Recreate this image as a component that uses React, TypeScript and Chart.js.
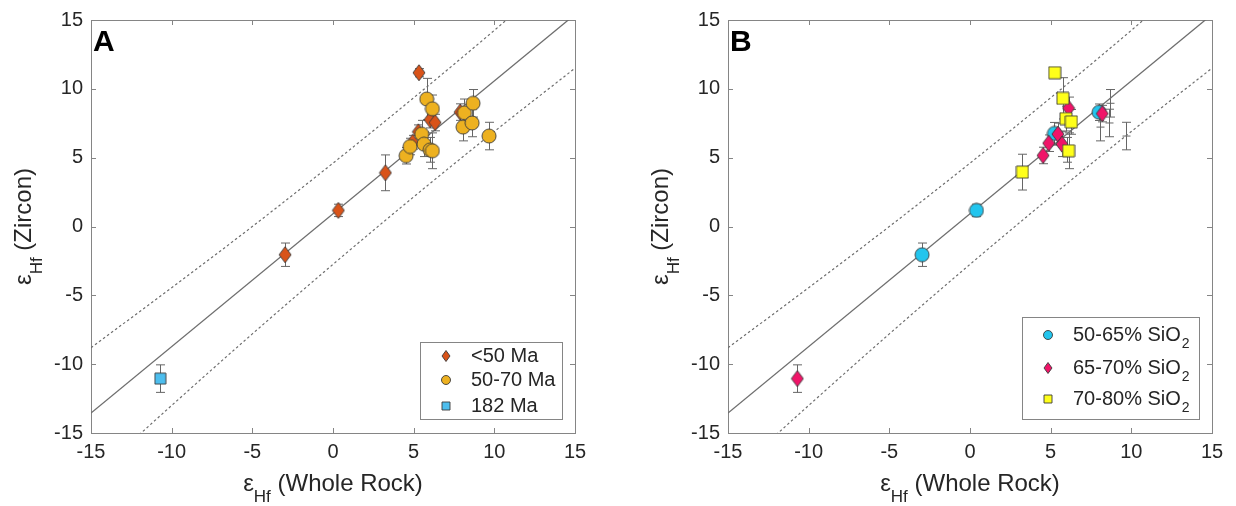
import React, { useEffect, useRef } from "react";
import { Chart, registerables } from "chart.js";
Chart.register(...registerables);

// ---------------- Data ----------------
const tickValues = [-15, -10, -5, 0, 5, 10, 15];

// regression line and prediction band
const fitX = [-15, 15];
const fitY = [-13.55, 15.4];
const bandX = [-15, -10, -5, 0, 5, 10, 15];
const bandUpper = [-8.8, -4.45, 0.0, 4.6, 9.35, 14.25, 19.3];
const bandLower = [-18.3, -13.0, -7.8, -2.75, 2.15, 6.9, 11.5];

// Panel A : ages
const aLt50X = [-2.97, 0.33, 3.25, 4.94, 5.29, 5.33, 6.02, 6.33, 7.88];
const aLt50Y = [-2.05, 1.17, 3.9, 6.12, 6.88, 11.17, 7.76, 7.55, 8.31];
const aLt50Err = [0.85, 0.45, 1.3, 0.5, 0.5, 0.3, 0.6, 0.6, 0.6];

const a5070X = [4.53, 4.78, 5.5, 5.64, 6.02, 6.16, 5.81, 6.16, 8.15, 8.68, 8.06, 8.62, 9.67];
const a5070Y = [5.14, 5.81, 6.71, 5.98, 5.57, 5.5, 9.26, 8.55, 8.26, 8.95, 7.22, 7.52, 6.57];
const a5070Err = [0.6, 0.6, 1.0, 0.9, 0.9, 1.3, 1.5, 1.0, 1.0, 1.0, 1.0, 1.0, 1.0];

const a182X = [-10.7];
const a182Y = [-11.05];
const a182Err = [1.0];

// Panel B : SiO2 content
const bLowX = [-2.97, 0.4, 5.23, 8.0];
const bLowY = [-2.05, 1.17, 6.76, 8.3];
const bLowErr = [0.85, 0.45, 0.8, 0.6];

const bMidX = [-10.7, 4.53, 4.88, 5.45, 5.7, 6.11, 8.2];
const bMidY = [-11.05, 5.16, 6.05, 6.71, 5.98, 8.6, 8.2];
const bMidErr = [1.0, 0.6, 0.6, 0.8, 0.9, 0.8, 0.6];

const bHighX = [3.25, 5.25, 5.76, 5.95, 6.28, 6.11];
const bHighY = [3.95, 11.17, 9.31, 7.84, 7.6, 5.5];
const bHighErr = [1.3, 0.3, 1.5, 0.9, 0.9, 1.3];

const bNoneX = [8.68, 8.06, 8.62, 9.67, 6.0];
const bNoneY = [8.95, 7.22, 7.52, 6.57, 5.57];
const bNoneErr = [1.0, 1.0, 1.0, 1.0, 0.9];

const legendA = ["<50 Ma", "50-70 Ma", "182 Ma"];
const legendB = ["50-65% SiO", "65-70% SiO", "70-80% SiO"];

// ---------------- Styling ----------------
const FONT = "'Liberation Sans', Arial, Helvetica, sans-serif";
const C_LT50 = "#D95319";
const C_5070 = "#EDB120";
const C_182 = "#4DBEEE";
const C_CYAN = "#22C5EE";
const C_MAG = "#F01468";
const C_YEL = "#FFFF1A";
const EDGE = "#3a3a3a";
const AXIS = "#858585";
const TXT = "#262626";
const LINE = "#6e6e6e";

type Shape = "diamond" | "circle" | "square";

function makeMarker(shape: Shape, w: number, h: number, fill: string): HTMLCanvasElement {
  const c = document.createElement("canvas");
  c.width = Math.ceil(w + 2);
  c.height = Math.ceil(h + 2);
  const g = c.getContext("2d")!;
  drawShape(g, shape, c.width / 2, c.height / 2, w, h, fill);
  return c;
}

function drawShape(g: CanvasRenderingContext2D, shape: Shape, cx: number, cy: number, w: number, h: number, fill: string) {
  g.beginPath();
  if (shape === "diamond") {
    g.moveTo(cx, cy - h / 2);
    g.lineTo(cx + w / 2, cy);
    g.lineTo(cx, cy + h / 2);
    g.lineTo(cx - w / 2, cy);
    g.closePath();
  } else if (shape === "circle") {
    g.arc(cx, cy, w / 2, 0, Math.PI * 2);
  } else {
    g.rect(cx - w / 2, cy - h / 2, w, h);
  }
  g.fillStyle = fill;
  g.fill();
  g.strokeStyle = EDGE;
  g.lineWidth = 0.9;
  g.stroke();
}

function pts(xs: number[], ys: number[]) {
  return xs.map((x, i) => ({ x, y: ys[i] }));
}

type Part = { t: string; sub?: boolean };

function drawRich(ctx: CanvasRenderingContext2D, parts: Part[], cx: number, base: number, size: number, subSize: number, subDy: number) {
  let total = 0;
  const widths = parts.map((p) => {
    ctx.font = `${p.sub ? subSize : size}px ${FONT}`;
    const w = ctx.measureText(p.t).width;
    total += w;
    return w;
  });
  let x = cx - total / 2;
  ctx.textAlign = "left";
  ctx.textBaseline = "alphabetic";
  parts.forEach((p, i) => {
    ctx.font = `${p.sub ? subSize : size}px ${FONT}`;
    ctx.fillText(p.t, x, base + (p.sub ? subDy : 0));
    x += widths[i];
  });
}

function lineDatasets() {
  return [
    {
      data: pts(fitX, fitY),
      showLine: true,
      pointRadius: 0,
      borderColor: LINE,
      borderWidth: 1.3,
      order: 20,
    },
    {
      data: pts(bandX, bandUpper),
      showLine: true,
      pointRadius: 0,
      borderColor: LINE,
      borderWidth: 1.2,
      borderDash: [2.5, 2.5],
      cubicInterpolationMode: "monotone",
      order: 21,
    },
    {
      data: pts(bandX, bandLower),
      showLine: true,
      pointRadius: 0,
      borderColor: LINE,
      borderWidth: 1.2,
      borderDash: [2.5, 2.5],
      cubicInterpolationMode: "monotone",
      order: 22,
    },
  ];
}

type LegendEntry = { shape: Shape; color: string; w: number; h: number; label: string; sub?: string };

type PanelCfg = {
  letter: string;
  datasets: any[];
  legend: LegendEntry[];
  legBox: { dl: number; dt: number; w: number; h: number; rows: number[] };
};

function buildPanels(): PanelCfg[] {
  const dA = {
    data: pts(aLt50X, aLt50Y),
    errs: aLt50Err,
    pointStyle: makeMarker("diamond", 12, 16, C_LT50),
    pointRadius: 7,
    order: 3,
  };
  const cA = {
    data: pts(a5070X, a5070Y),
    errs: a5070Err,
    pointStyle: makeMarker("circle", 14, 14, C_5070),
    pointRadius: 7,
    order: 2,
  };
  const sA = {
    data: pts(a182X, a182Y),
    errs: a182Err,
    pointStyle: makeMarker("square", 11, 11, C_182),
    pointRadius: 6,
    order: 1,
  };
  const cB = {
    data: pts(bLowX, bLowY),
    errs: bLowErr,
    pointStyle: makeMarker("circle", 14, 14, C_CYAN),
    pointRadius: 7,
    order: 3,
  };
  const dB = {
    data: pts(bMidX, bMidY),
    errs: bMidErr,
    pointStyle: makeMarker("diamond", 12, 16, C_MAG),
    pointRadius: 7,
    order: 2,
  };
  const sB = {
    data: pts(bHighX, bHighY),
    errs: bHighErr,
    pointStyle: makeMarker("square", 12, 12, C_YEL),
    pointRadius: 6,
    order: 1,
  };
  const nB = {
    data: pts(bNoneX, bNoneY),
    errs: bNoneErr,
    midTick: true,
    pointRadius: 0,
    order: 4,
  };
  return [
    {
      letter: "A",
      datasets: [...lineDatasets(), dA, cA, sA],
      legend: [
        { shape: "diamond", color: C_LT50, w: 8, h: 11, label: legendA[0] },
        { shape: "circle", color: C_5070, w: 9, h: 9, label: legendA[1] },
        { shape: "square", color: C_182, w: 8, h: 8, label: legendA[2] },
      ],
      legBox: { dl: 155, dt: 91, w: 142, h: 77, rows: [14, 38, 64] },
    },
    {
      letter: "B",
      datasets: [...lineDatasets(), nB, cB, dB, sB],
      legend: [
        { shape: "circle", color: C_CYAN, w: 9, h: 9, label: legendB[0], sub: "2" },
        { shape: "diamond", color: C_MAG, w: 8, h: 11, label: legendB[1], sub: "2" },
        { shape: "square", color: C_YEL, w: 8, h: 8, label: legendB[2], sub: "2" },
      ],
      legBox: { dl: 190, dt: 116, w: 177, h: 102, rows: [18, 51, 82] },
    },
  ];
}

function makePlugin(cfg: PanelCfg) {
  return {
    id: "decor" + cfg.letter,
    beforeDatasetsDraw(chart: any) {
      const ctx: CanvasRenderingContext2D = chart.ctx;
      const xs = chart.scales.x;
      const ys = chart.scales.y;
      const ca = chart.chartArea;
      ctx.save();
      // box
      ctx.strokeStyle = AXIS;
      ctx.lineWidth = 1;
      ctx.strokeRect(Math.round(ca.left) + 0.5, Math.round(ca.top) + 0.5, Math.round(ca.right - ca.left), Math.round(ca.bottom - ca.top));
      // inside ticks
      ctx.beginPath();
      tickValues.forEach((v) => {
        const px = Math.round(xs.getPixelForValue(v)) + 0.5;
        ctx.moveTo(px, ca.bottom);
        ctx.lineTo(px, ca.bottom - 5);
        ctx.moveTo(px, ca.top);
        ctx.lineTo(px, ca.top + 5);
        const py = Math.round(ys.getPixelForValue(v)) + 0.5;
        ctx.moveTo(ca.left, py);
        ctx.lineTo(ca.left + 5, py);
        ctx.moveTo(ca.right, py);
        ctx.lineTo(ca.right - 5, py);
      });
      ctx.stroke();
      // error bars
      ctx.beginPath();
      ctx.rect(ca.left, ca.top, ca.right - ca.left, ca.bottom - ca.top);
      ctx.clip();
      ctx.strokeStyle = "#666";
      ctx.lineWidth = 1;
      chart.data.datasets.forEach((ds: any) => {
        if (!ds.errs) return;
        ds.data.forEach((p: any, i: number) => {
          const e = ds.errs[i];
          const px = Math.round(xs.getPixelForValue(p.x)) + 0.5;
          const y1 = ys.getPixelForValue(p.y - e);
          const y2 = ys.getPixelForValue(p.y + e);
          ctx.beginPath();
          ctx.moveTo(px, y1);
          ctx.lineTo(px, y2);
          ctx.moveTo(px - 4.5, y1);
          ctx.lineTo(px + 4.5, y1);
          ctx.moveTo(px - 4.5, y2);
          ctx.lineTo(px + 4.5, y2);
          if (ds.midTick) {
            const py = ys.getPixelForValue(p.y);
            ctx.moveTo(px - 4, py);
            ctx.lineTo(px + 4, py);
          }
          ctx.stroke();
        });
      });
      ctx.restore();
    },
    afterDraw(chart: any) {
      const ctx: CanvasRenderingContext2D = chart.ctx;
      const ca = chart.chartArea;
      ctx.save();
      ctx.fillStyle = "#000";
      // panel letter
      ctx.font = `bold 30px ${FONT}`;
      ctx.textAlign = "left";
      ctx.textBaseline = "alphabetic";
      ctx.fillText(cfg.letter, ca.left + 2, ca.top + 31);
      // x title
      ctx.fillStyle = TXT;
      const cx = (ca.left + ca.right) / 2;
      drawRich(ctx, [{ t: "ε" }, { t: "Hf", sub: true }, { t: " (Whole Rock)" }], cx, 491, 24, 17, 11);
      // y title
      ctx.save();
      ctx.translate(31, (ca.top + ca.bottom) / 2);
      ctx.rotate(-Math.PI / 2);
      drawRich(ctx, [{ t: "ε" }, { t: "Hf", sub: true }, { t: " (Zircon)" }], 0, 0, 24, 17, 11);
      ctx.restore();
      // legend
      const lb = cfg.legBox;
      const lx = ca.right - lb.dl;
      const ly = ca.bottom - lb.dt;
      ctx.fillStyle = "#fff";
      ctx.fillRect(lx, ly, lb.w, lb.h);
      ctx.strokeStyle = AXIS;
      ctx.lineWidth = 1;
      ctx.strokeRect(Math.round(lx) + 0.5, Math.round(ly) + 0.5, lb.w, lb.h);
      cfg.legend.forEach((en, i) => {
        const ry = ly + lb.rows[i];
        drawShape(ctx, en.shape, lx + 26, ry, en.w, en.h, en.color);
        ctx.fillStyle = TXT;
        ctx.font = `20px ${FONT}`;
        ctx.textAlign = "left";
        ctx.textBaseline = "middle";
        ctx.fillText(en.label, lx + 51, ry);
        if (en.sub) {
          const w = ctx.measureText(en.label).width;
          ctx.font = `14px ${FONT}`;
          ctx.fillText(en.sub, lx + 51 + w + 1, ry + 9);
        }
      });
      ctx.restore();
    },
  };
}

function Panel({ cfg, left }: { cfg: PanelCfg; left: number }) {
  const ref = useRef<HTMLCanvasElement>(null);
  useEffect(() => {
    if (!ref.current) return;
    const tickFont = { family: FONT, size: 20 };
    const chart = new Chart(ref.current, {
      type: "scatter",
      data: { datasets: cfg.datasets },
      options: {
        animation: false,
        responsive: false,
        events: [],
        layout: { padding: { top: 13, right: 62, left: 0, bottom: 0 } },
        plugins: { legend: { display: false }, tooltip: { enabled: false } },
        scales: {
          x: {
            type: "linear",
            min: -15,
            max: 15,
            afterBuildTicks: (s: any) => {
              s.ticks = tickValues.map((v) => ({ value: v }));
            },
            ticks: { padding: 7, color: TXT, font: tickFont, maxRotation: 0 },
            grid: { display: false, drawTicks: false },
            border: { display: false },
            afterFit: (s: any) => {
              s.height = 73;
            },
          },
          y: {
            type: "linear",
            min: -15,
            max: 15,
            afterBuildTicks: (s: any) => {
              s.ticks = tickValues.map((v) => ({ value: v }));
            },
            ticks: { padding: 8, color: TXT, font: tickFont },
            grid: { display: false, drawTicks: false },
            border: { display: false },
            afterFit: (s: any) => {
              s.width = 91;
            },
          },
        },
      } as any,
      plugins: [makePlugin(cfg)],
    });
    return () => chart.destroy();
  }, [cfg]);
  return (
    <div style={{ position: "absolute", left, top: 0, width: 637, height: 506 }}>
      <canvas ref={ref} width={637} height={506} style={{ display: "block" }} />
    </div>
  );
}

export default function App() {
  const panelsRef = useRef<PanelCfg[] | null>(null);
  if (!panelsRef.current && typeof document !== "undefined") panelsRef.current = buildPanels();
  const panels = panelsRef.current!;
  return (
    <div style={{ position: "absolute", left: 0, top: 0, width: 1236, height: 506, background: "#fff", overflow: "hidden" }}>
      <Panel cfg={panels[0]} left={0} />
      <Panel cfg={panels[1]} left={637} />
    </div>
  );
}
